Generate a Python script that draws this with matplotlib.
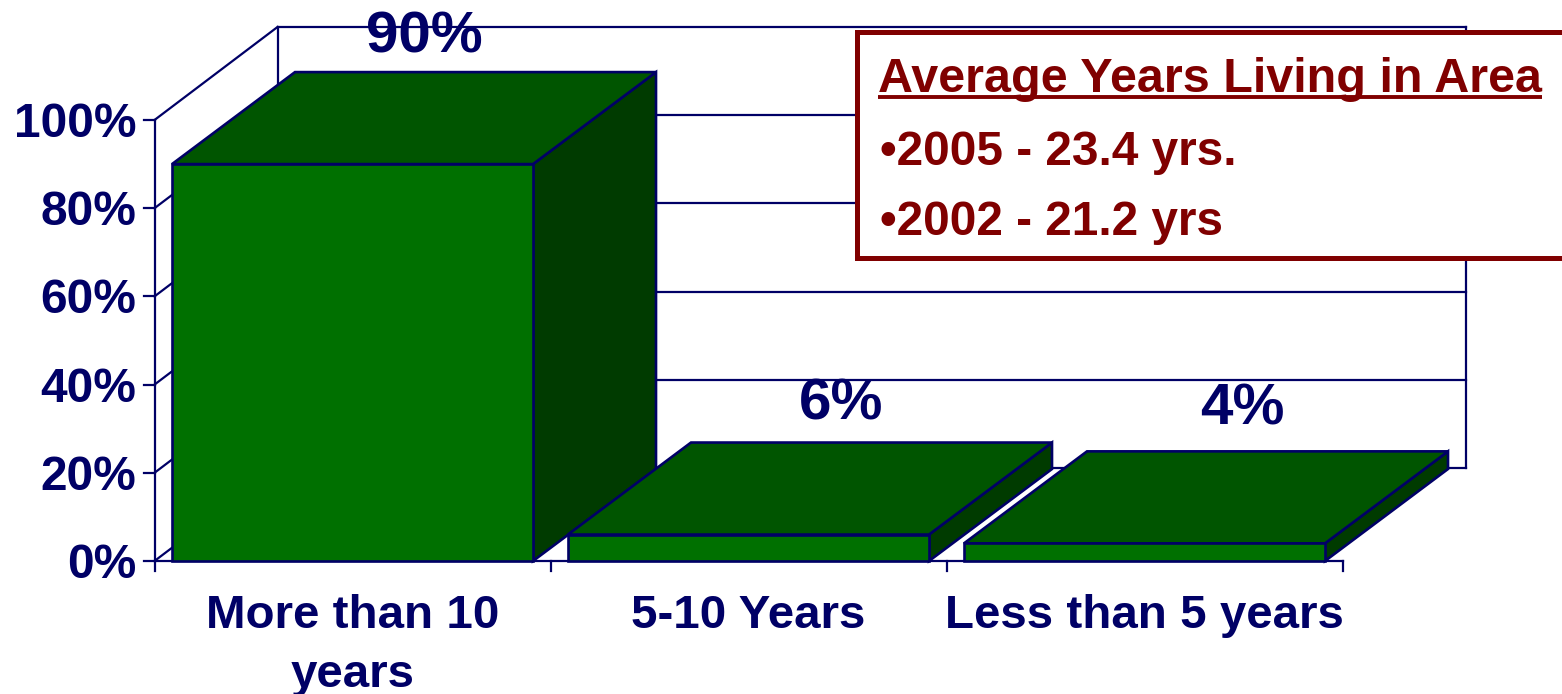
import matplotlib
matplotlib.use("Agg")
import matplotlib.pyplot as plt
from matplotlib.patches import Polygon, Rectangle

categories = ["More than 10\nyears", "5-10 Years", "Less than 5 years"]
values = [90, 6, 4]
value_labels = ["90%", "6%", "4%"]
y_ticks = [0, 20, 40, 60, 80, 100]
box_title = "Average Years Living in Area"
box_lines = ["•2005 - 23.4 yrs.", "•2002 - 21.2 yrs"]

W, H = 1562, 694
NAVY = "#000066"
MAROON = "#800000"
FRONT = "#007000"
TOP = "#005500"
SIDE = "#003b00"

# scale of the fake 3d chart, in pixels of the original
X0, Y0 = 154.5, 561
PX_CAT = 396.0
PX_PCT = 4.41
DX = 123 / PX_CAT
DY = 92 / PX_PCT
WALL_DY = 93 / PX_PCT
BAR_W = 361 / PX_CAT

plt.rcParams["font.family"] = ["Liberation Sans", "DejaVu Sans"]
plt.rcParams["font.weight"] = "bold"

fig = plt.figure(figsize=(W / 100, H / 100), dpi=100)
ax = fig.add_axes([0, 0, 1, 1])
ax.set_xlim(-X0 / PX_CAT, (W - X0) / PX_CAT)
ax.set_ylim((Y0 - H) / PX_PCT, Y0 / PX_PCT)
ax.axis("off")

tick_w = 11 / PX_CAT
tick_h = 10 / PX_PCT
n = len(categories)

# walls and grid
ax.plot([0, 0], [0, 100], color=NAVY, lw=1.6, zorder=1)
ax.plot([DX, DX], [WALL_DY, 100 + WALL_DY], color=NAVY, lw=1.6, zorder=1)
ax.plot([n + DX, n + DX], [WALL_DY, 100 + WALL_DY], color=NAVY, lw=1.6, zorder=1)
ax.plot([0, n], [0, 0], color=NAVY, lw=1.6, zorder=1)
for t in y_ticks:
    ax.plot([-tick_w, 0], [t, t], color=NAVY, lw=1.6, zorder=1)
    ax.plot([0, DX], [t, t + WALL_DY], color=NAVY, lw=1.6, zorder=1)
    ax.plot([DX, n + DX], [t + WALL_DY, t + WALL_DY], color=NAVY, lw=1.6, zorder=1)
    ax.text(-18 / PX_CAT, t - 17 / PX_PCT, f"{t}%", ha="right", va="baseline",
            fontsize=34.5, color=NAVY)
for i in range(n + 1):
    ax.plot([i, i], [0, -tick_h], color=NAVY, lw=1.6, zorder=1)

# bars
label_dx = [72, 93, 98]
label_dy = [20, 23, 27]
for i, v in enumerate(values):
    x0 = i + 0.5 - BAR_W / 2
    x1 = i + 0.5 + BAR_W / 2
    z = 3 + i
    edge = dict(edgecolor=NAVY, linewidth=1.9, joinstyle="miter", zorder=z)
    ax.add_patch(Polygon([(x1, 0), (x1 + DX, DY), (x1 + DX, v + DY), (x1, v)],
                         facecolor=SIDE, **edge))
    ax.add_patch(Polygon([(x0, v), (x1, v), (x1 + DX, v + DY), (x0 + DX, v + DY)],
                         facecolor=TOP, **edge))
    ax.add_patch(Rectangle((x0, 0), BAR_W, v, facecolor=FRONT, **edge))
    ax.text(i + 0.5 + label_dx[i] / PX_CAT, v + DY + label_dy[i] / PX_PCT, value_labels[i],
            ha="center", va="baseline", fontsize=42, color=NAVY, zorder=8)

# category labels
for i, c in enumerate(categories):
    for j, part in enumerate(c.split("\n")):
        ax.text(i + 0.5, -(67 + 59 * j) / PX_PCT, part, ha="center", va="baseline",
                fontsize=34.2, color=NAVY)

# note box
box_x = (857 - X0) / PX_CAT
box_y = (Y0 - 258) / PX_PCT
ax.add_patch(Rectangle((box_x, box_y), (1568 - 857) / PX_CAT, 226 / PX_PCT, facecolor="white",
                       edgecolor=MAROON, linewidth=3.6, zorder=10))
tx = (878 - X0) / PX_CAT
ax.text(tx, (Y0 - 92) / PX_PCT, box_title, ha="left", va="baseline", fontsize=34.9,
        color=MAROON, zorder=11)
ax.plot([tx, (1542 - X0) / PX_CAT], [(Y0 - 97) / PX_PCT] * 2, color=MAROON, lw=2.8,
        solid_capstyle="butt", zorder=11)
for line, base in zip(box_lines, [165, 235]):
    ax.text(tx + 2 / PX_CAT, (Y0 - base) / PX_PCT, line, ha="left", va="baseline", fontsize=34.4,
            color=MAROON, zorder=11)

fig.savefig("out.png", dpi=100)
